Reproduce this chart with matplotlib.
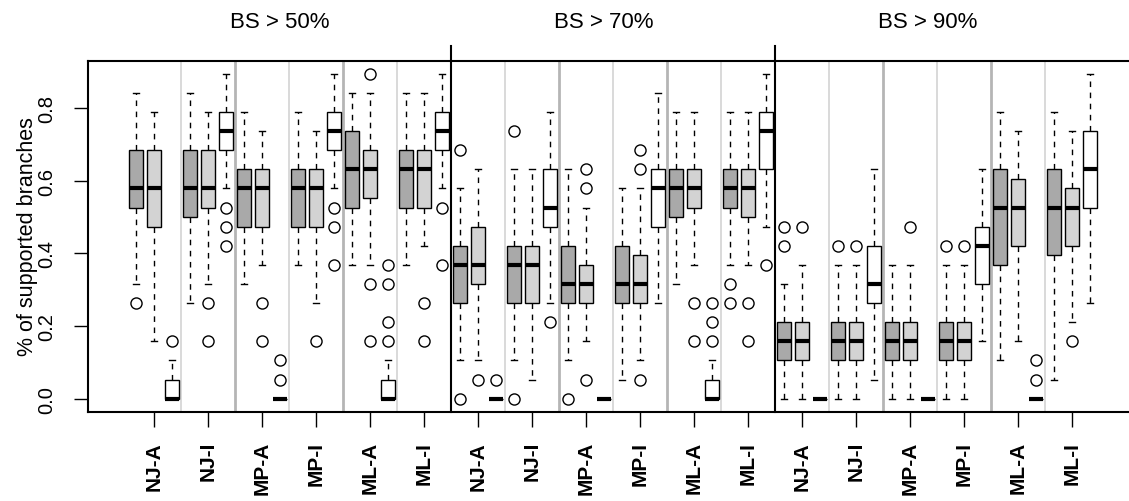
import numpy as np
import matplotlib
matplotlib.use("Agg")
import matplotlib.pyplot as plt
import matplotlib.transforms as mtransforms

plt.rcParams['font.family'] = ['Liberation Sans', 'DejaVu Sans']

# ==========================
# data: number of supported branches (out of 19) per replicate set
# 3 panels x 6 methods x 3 boxes (dark / light / white)
# ==========================
N_BRANCHES = 19

panels = ["BS > 50%", "BS > 70%", "BS > 90%"]
methods = ["NJ-A", "NJ-I", "MP-A", "MP-I", "ML-A", "ML-I"]
box_colors = ["#A9A9A9", "#D3D3D3", "#FFFFFF"]

whisk_hi = [16, 15, 2, 16, 15, 17, 15, 14, 0, 15, 14, 17, 16, 16, 2, 16, 16, 17,
            11, 12, 0, 12, 12, 15, 12, 10, 0, 11, 11, 16, 15, 15, 2, 15, 15, 17,
            6, 7, 0, 7, 7, 12, 7, 7, 0, 7, 7, 12, 15, 14, 0, 15, 14, 17]
q3 = [13, 13, 1, 13, 13, 15, 12, 12, 0, 12, 12, 15, 14, 13, 1, 13, 13, 15,
      8, 9, 0, 8, 8, 12, 8, 7, 0, 8, 7.5, 12, 12, 12, 1, 12, 12, 15,
      4, 4, 0, 4, 4, 8, 4, 4, 0, 4, 4, 9, 12, 11.5, 0, 12, 11, 14]
med = [11, 11, 0, 11, 11, 14, 11, 11, 0, 11, 11, 14, 12, 12, 0, 12, 12, 14,
       7, 7, 0, 7, 7, 10, 6, 6, 0, 6, 6, 11, 11, 11, 0, 11, 11, 14,
       3, 3, 0, 3, 3, 6, 3, 3, 0, 3, 3, 8, 10, 10, 0, 10, 10, 12]
q1 = [10, 9, 0, 9.5, 10, 13, 9, 9, 0, 9, 9, 13, 10, 10.5, 0, 10, 10, 13,
      5, 6, 0, 5, 5, 9, 5, 5, 0, 5, 5, 9, 9.5, 10, 0, 10, 9.5, 12,
      2, 2, 0, 2, 2, 5, 2, 2, 0, 2, 2, 6, 7, 8, 0, 7.5, 8, 10]
whisk_lo = [6, 3, 0, 5, 6, 11, 6, 7, 0, 7, 5, 11, 7, 7, 0, 7, 8, 11,
            2, 2, 0, 2, 1, 5, 2, 3, 0, 1, 2, 5, 6, 7, 0, 7, 7, 9,
            0, 0, 0, 0, 0, 1, 0, 0, 0, 0, 0, 3, 2, 3, 0, 1, 4, 5]
fliers = [[5], [], [3], [], [5, 3], [10, 9, 8], [], [5, 3], [2, 1],
          [], [3], [10, 9, 7], [], [17, 6, 3], [7, 6, 4, 3], [], [5, 3], [10, 7],
          [13, 0], [1], [1], [14, 0], [], [4], [0], [12, 11, 1], [],
          [], [13, 12, 1], [], [], [5, 3], [5, 4, 3], [6, 5], [5, 3], [7],
          [9, 8], [9], [], [8], [8], [], [], [9], [],
          [8], [8], [], [], [], [2, 1], [], [3], []]

# ==========================
# build box statistics
# ==========================
stats = []
for i in range(len(med)):
    stats.append({
        "whislo": whisk_lo[i] / N_BRANCHES,
        "q1": q1[i] / N_BRANCHES,
        "med": med[i] / N_BRANCHES,
        "q3": q3[i] / N_BRANCHES,
        "whishi": whisk_hi[i] / N_BRANCHES,
        "fliers": np.array(fliers[i]) / N_BRANCHES,
    })

positions = np.arange(1, len(stats) + 1)

# ==========================
# plot
# ==========================
W, H = 1129, 502
fig = plt.figure(figsize=(W / 100, H / 100), dpi=100)
ax = fig.add_axes([88.3 / W, 89.3 / H, 1049.7 / W, 351 / H])

# group separators
n_groups = len(panels) * len(methods)
for g in range(1, n_groups):
    x = g * 3 + 0.5
    if g % 6 == 0:
        continue
    if g % 2 == 1:
        ax.axvline(x, color="#CFCFCF", lw=1.1, zorder=0.5)
    else:
        ax.axvline(x, color="#B5B5B5", lw=2.0, zorder=0.5)

bp = ax.bxp(
    stats,
    positions=positions,
    widths=0.8,
    capwidths=0.36,
    patch_artist=True,
    boxprops=dict(edgecolor="black", linewidth=1.0),
    whiskerprops=dict(color="black", linewidth=1.0, linestyle=(0, (4, 4))),
    capprops=dict(color="black", linewidth=1.0),
    medianprops=dict(color="black", linewidth=3.0, solid_capstyle="butt"),
    flierprops=dict(marker="o", markersize=8, markerfacecolor="none",
                    markeredgecolor="black", markeredgewidth=1.0),
)
for i, patch in enumerate(bp["boxes"]):
    patch.set_facecolor(box_colors[i % 3])
    patch.set_zorder(2)

# panel separators, sticking out above the frame
for x in [18.5, 36.5]:
    ax.axvline(x, ymin=0, ymax=1.042, color="black", lw=1.5, clip_on=False, zorder=3)

ax.set_xlim(-1.66, 56.66)
ax.set_ylim(-0.0358, 0.9305)

# x axis: one tick per method (middle box)
tick_pos = positions[1::3]
tick_labels = methods * len(panels)
ax.set_xticks(tick_pos)
ax.set_xticklabels(tick_labels, rotation=90, fontweight="bold", fontsize=15)
ax.tick_params(axis="x", length=11, width=1.0, pad=10)

ax.set_yticks([0.0, 0.2, 0.4, 0.6, 0.8])
ax.set_yticklabels(["0.0", "0.2", "0.4", "0.6", "0.8"], rotation=90,
                   va="center", fontsize=14.5)
ax.tick_params(axis="y", length=10, width=1.0, pad=13)

for sp in ax.spines.values():
    sp.set_linewidth(1.5)

fig.text(28 / W, 1 - 237 / H, "% of supported branches", rotation=90,
         ha="center", va="center", fontsize=15.5)

trans = mtransforms.blended_transform_factory(ax.transData, ax.transAxes)
for x, title in zip([9, 27, 45], panels):
    ax.text(x, 1.112, title, transform=trans, ha="center", va="center", fontsize=16)

fig.savefig("out.png", dpi=100)
